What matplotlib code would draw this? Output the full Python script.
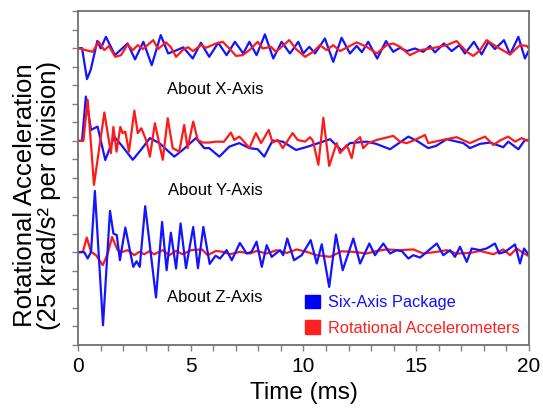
import matplotlib.pyplot as plt
from matplotlib.patches import Patch
from matplotlib.ticker import MultipleLocator

plt.rcParams['font.family'] = ['Liberation Sans', 'DejaVu Sans']

# time in ms, values in divisions relative to each trace's zero line
x_six_t = [0, 0.18, 0.40, 0.56, 0.86, 1.01, 1.24, 1.64, 2.20, 2.53, 2.90, 3.27, 3.67, 4.00, 4.38, 4.67,
           5.09, 5.45, 5.82, 6.22, 6.59, 6.96, 7.33, 7.60, 7.92, 8.29, 8.66, 9.03, 9.40, 9.77, 9.99,
           10.26, 10.51, 10.95, 11.32, 11.69, 12.06, 12.36, 12.59, 12.87, 13.27, 13.66, 13.98, 14.28,
           14.58, 14.94, 15.31, 15.61, 15.83, 16.23, 16.57, 16.91, 17.16, 17.56, 17.90, 18.20, 18.49,
           18.89, 19.16, 19.53, 19.82, 20.0]
x_six_v = [0, 0, -1.67, -1.19, 0.39, -0.02, 0.61, -0.38, 0.25, -0.61, 0.34, -0.92, 0.70, -0.29, -0.11, 0.04,
           -0.56, 0.29, -0.47, 0.29, -0.38, 0.34, -0.29, 0.34, -0.38, 0.74, -0.56, 0.34, -0.29, 0.34, -0.29,
           0.07, -0.29, 0.52, -0.74, 0.56, -0.29, 0.12, -0.22, 0.34, -0.56, 0.38, -0.20, 0.02,
           -0.16, -0.02, -0.20, 0.11, -0.23, 0.25, -0.16, 0.16, -0.29, 0.34, -0.34, 0.34, -0.05,
           0.43, -0.34, 0.61, -0.56, -0.11]

x_rot_t = [0, 0.35, 0.65, 0.92, 1.17, 1.37, 1.65, 1.91, 2.20, 2.43, 2.65, 2.88, 3.34, 3.55, 3.90, 4.12,
           4.35, 4.64, 4.88, 5.10, 5.45, 5.68, 6.12, 6.42, 6.71, 7.01, 7.30, 7.60, 7.97, 8.19, 8.56,
           8.78, 9.37, 9.67, 10.07, 10.43, 10.73, 11.03, 11.32, 11.62, 12.36, 12.80, 13.25, 13.69,
           13.98, 14.28, 14.72, 15.17, 15.74, 16.35, 16.79, 17.24, 17.53, 17.83, 18.12, 18.57, 19.16,
           19.60, 19.90, 20.0]
x_rot_v = [0, -0.11, -0.20, 0.34, -0.11, 0.11, -0.47, -0.38, 0.20, -0.11, 0.16, -0.05, 0.43, -0.05, 0.31, 0.05,
           -0.47, -0.11, 0.05, -0.16, 0.16, 0.02, 0.25, 0.34, -0.02, -0.42, -0.38, -0.11, 0.34, -0.02, 0.07,
           -0.20, 0.43, -0.05, -0.47, -0.20, 0.16, -0.11, 0.16, -0.16, 0.31, 0.07, -0.29, 0.16,
           0.25, 0.07, -0.38, -0.11, 0, 0.16, 0.38, -0.20, -0.42, -0.11, 0.43, 0.07, -0.34,
           0.16, 0.12, -0.02]

y_six_t = [0, 0.18, 0.35, 0.58, 0.72, 0.87, 1.21, 1.61, 1.98, 2.43, 2.79, 3.19, 3.61, 4.27, 4.64, 5.23,
           5.60, 5.82, 6.27, 6.71, 7.15, 7.60, 7.97, 8.26, 8.63, 9.08, 9.67, 10.11, 10.29, 11.18, 11.69,
           12.06, 12.80, 13.22, 13.84, 14.65, 15.03, 15.53, 15.88, 16.35, 17.09, 17.38, 17.83, 18.27,
           18.86, 19.08, 19.53, 19.82, 20.0]
y_six_v = [0, 0, 2.39, 0.59, 0.68, 0.77, -1.03, 0.23, -0.31, -1.02, -0.49, 0.15, -0.12, -0.85, -0.49, 0.15,
           -0.39, -0.39, -0.85, -0.31, -0.12, -0.39, -0.45, -0.85, 0.02, -0.04, -0.49, -0.34, -0.27, 0.09, -0.52,
           -0.12, -0.04, -0.16, -0.45, 0.23, 0, -0.39, -0.27, 0.09, -0.12, -0.39, -0.16, -0.09,
           -0.34, -0.04, -0.45, 0.05, 0.02]

y_rot_t = [0, 0.24, 0.43, 0.71, 0.93, 1.17, 1.46, 1.57, 1.71, 1.88, 1.98, 2.10, 2.26, 2.50, 2.65, 2.81,
           3.02, 3.19, 3.41, 3.76, 3.98, 4.20, 4.49, 4.71, 4.86, 5.11, 5.31, 5.53, 5.82, 6.12, 6.47,
           6.78, 6.93, 7.15, 7.30, 7.60, 7.89, 8.12, 8.46, 8.63, 8.86, 9.08, 9.52, 9.74, 10.07, 10.29,
           10.42, 10.66, 10.88, 11.14, 11.47, 11.62, 11.92, 12.14, 12.28, 12.51, 12.65, 12.87, 13.25,
           13.98, 14.28, 14.58, 14.94, 15.39, 15.53, 16.05, 16.79, 17.38, 18.05, 18.42, 18.71, 19.08,
           19.38, 19.68, 19.90, 20.0]
y_rot_v = [0, 0, 2.21, -2.37, -0.49, 1.53, -0.66, 0.75, -0.58, 0.75, 0.42, 0.50, -0.58, 1.63, 0.42, 0.68,
           0.05, -0.85, 0.95, -1.02, 1.22, -0.39, -0.58, 0.86, -0.39, 1.04, 0.05, -0.09, -0.09, -0.04, -0.05,
           0.45, 0.05, 0.23, 0.05, -0.39, 0.42, -0.12, 0.59, -0.09, 0.05, -0.39, 0.42, 0.05, -0.04, 0.20,
           0, -1.29, 1.24, -1.35, -0.12, -0.66, -0.22, -0.93, -0.04, 0.20, -0.39, -0.12, 0.05,
           0.27, -0.04, -0.12, 0.05, 0.32, -0.12, 0.02, 0.20, -0.12, 0.23, -0.22, 0.02, 0.23,
           -0.04, 0.15, 0.02, 0.09]

z_six_t = [0, 0.28, 0.43, 0.58, 0.75, 1.11, 1.42, 1.57, 1.72, 1.86, 2.10, 2.45, 2.60, 2.74, 2.98, 3.46,
           3.73, 3.93, 4.12, 4.35, 4.55, 4.79, 5.11, 5.32, 5.56, 5.84, 6.10, 6.30, 6.59, 6.82, 7.18,
           7.48, 7.70, 7.92, 8.15, 8.37, 8.59, 8.96, 9.10, 9.28, 9.58, 9.92, 10.32, 10.59, 10.81,
           11.14, 11.44, 11.74, 12.21, 12.51, 12.92, 13.17, 13.54, 13.84, 14.13, 14.37, 14.65, 14.87,
           15.17, 15.91, 16.20, 16.50, 16.72, 16.94, 17.24, 17.46, 17.83, 18.12, 18.49, 18.68, 18.94,
           19.38, 19.60, 19.78, 20.0]
z_six_v = [0, 0, -0.34, 0.02, 3.30, -3.94, 2.23, 1.01, 0.92, -0.43, 1.33, -0.79, -0.49, -0.79, 2.48, -2.44,
           1.63, -0.97, 1.05, -0.88, 1.55, -0.86, 1.36, -0.86, 1.36, -0.63, -0.19, -0.34, 0.11, -0.43, 0.50,
           -0.07, 0.02, 0.57, -0.79, 0.38, -0.25, 0.11, -0.16, 0.74, -0.43, -0.16, 0.65, -0.61, 0.43,
           -1.87, 0.95, -0.97, 0.74, -0.61, 0.47, -0.16, 0.47, -0.07, 0.11, 0.05, -0.34, -0.16,
           -0.29, 0.47, -0.16, 0.11, -0.25, 0.29, -0.52, 0.20, 0.11, 0.20, 0.47, -0.07, 0.02,
           0.42, -0.61, 0.20, -0.16]

z_rot_t = [0, 0.22, 0.39, 0.58, 0.80, 1.10, 1.32, 1.51, 1.76, 1.98, 2.20, 2.50, 2.72, 2.94, 3.16, 3.38,
           3.76, 4.05, 4.35, 4.64, 5.01, 5.50, 5.75, 6.12, 6.42, 6.74, 7.18, 7.63, 7.92, 8.37, 8.81,
           9.26, 9.70, 10.14, 10.59, 11.18, 11.69, 12.21, 12.80, 13.25, 13.69, 14.28, 14.87, 15.31,
           15.91, 16.35, 16.79, 17.38, 17.83, 18.42, 18.86, 19.16, 19.45, 19.75, 20.0]
z_rot_v = [0, 0.03, 0.79, 0.02, -0.16, -0.70, -0.07, 0.82, 0.11, 0.02, 0.11, -0.16, 0.02, -0.11, 0.05, -0.11,
           0.11, -0.16, 0.07, -0.11, 0.11, 0.15, -0.16, 0.07, 0.02, -0.11, 0.02, -0.07, 0.07, -0.07, 0.11,
           -0.04, 0.15, 0.02, -0.16, -0.25, 0.05, 0.02, -0.07, 0.07, 0.15, 0.11, 0.15, -0.07,
           0.02, 0.11, -0.07, -0.04, 0.07, -0.11, 0.15, -0.16, 0.20, -0.04, -0.22]

offsets = {'X': 16, 'Y': 11, 'Z': 5}
blue = '#1414ff'
red = '#ff1a1a'

fig = plt.figure(figsize=(5.43, 4.15), dpi=100)
ax = fig.add_axes([0.1436, 0.1687, 0.8306, 0.8048])

style = dict(lw=1.6, solid_joinstyle='round', solid_capstyle='round')
ax.plot(x_six_t, [v + offsets['X'] for v in x_six_v], color=blue, **style)
ax.plot(x_rot_t, [v + offsets['X'] for v in x_rot_v], color=red, **style)
ax.plot(y_six_t, [v + offsets['Y'] for v in y_six_v], color=blue, **style)
ax.plot(y_rot_t, [v + offsets['Y'] for v in y_rot_v], color=red, **style)
ax.plot(z_rot_t, [v + offsets['Z'] for v in z_rot_v], color=red, **style)
ax.plot(z_six_t, [v + offsets['Z'] for v in z_six_v], color=blue, **style)

ax.set_xlim(0, 20)
ax.set_ylim(0, 18)
ax.xaxis.set_major_locator(MultipleLocator(5))
ax.xaxis.set_minor_locator(MultipleLocator(1))
ax.yaxis.set_major_locator(MultipleLocator(1))
ax.set_yticklabels([])
ax.tick_params(which='both', direction='out', length=4, width=1, color='#808080')
ax.tick_params(axis='x', labelsize=15, pad=5)
for s in ax.spines.values():
    s.set_color('#707070')
    s.set_linewidth(1.3)

ax.set_xlabel('Time (ms)', fontsize=17.5, labelpad=4)
ax.set_ylabel('Rotational Acceleration\n(25 krad/s² per division)', fontsize=18.5,
              linespacing=1.0)
ax.yaxis.set_label_coords(-0.038, 0.449)

ax.text(6.08, 13.75, 'About X-Axis', fontsize=12, ha='center', va='center')
ax.text(6.08, 8.30, 'About Y-Axis', fontsize=12, ha='center', va='center')
ax.text(6.08, 2.55, 'About Z-Axis', fontsize=12, ha='center', va='center')

handles = [Patch(color='#0000ff'), Patch(color='#ff2020')]
ax.legend(handles, ['Six-Axis Package', 'Rotational Accelerometers'], loc='upper left',
          bbox_to_anchor=(0.503, 0.150), frameon=False, fontsize=11.8, handlelength=0.9,
          handleheight=0.9, handletextpad=0.5, labelspacing=0.6, labelcolor=['#1010ff', '#ff2020'],
          borderpad=0, borderaxespad=0)

fig.savefig('out.png', dpi=100)
